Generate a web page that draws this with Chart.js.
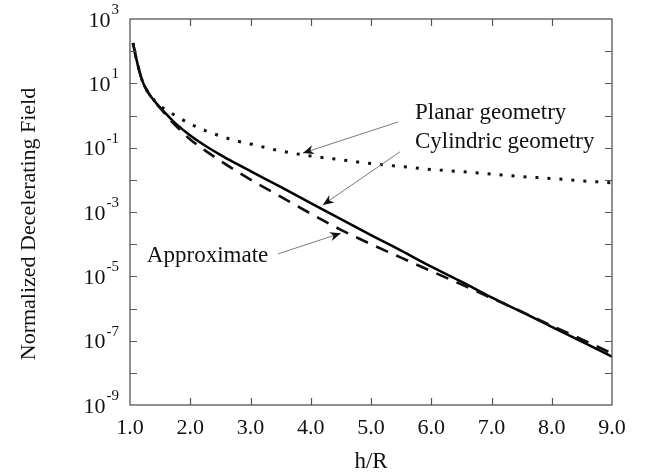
<!DOCTYPE html>
<html>
<head>
<meta charset="utf-8">
<script src="https://cdn.jsdelivr.net/npm/chart.js@4.4.1/dist/chart.umd.min.js"></script>
<style>
  html, body { margin: 0; padding: 0; background: #fff; }
  #wrap { width: 646px; height: 476px; }
</style>
</head>
<body>
<div id="wrap"><canvas id="chart"></canvas></div>
<script>
// h/R sample positions
const hR = [1.05, 1.1, 1.2, 1.3, 1.4, 1.5, 1.75, 2.0, 2.25, 2.5, 2.75, 3.0, 3.5, 4.0, 4.5, 5.0, 5.5, 6.0, 6.5, 7.0, 7.5, 8.0, 8.5, 9.0];

// normalized decelerating field
const cylindric = [178, 63, 12.6, 5.2, 2.9, 1.8, 0.58, 0.24, 0.115, 0.060, 0.033, 0.0186, 6.0e-3, 1.9e-3,
  6.0e-4, 1.9e-4, 6.3e-5, 2.0e-5, 6.8e-6, 2.2e-6, 7.9e-7, 2.7e-7, 9.3e-8, 3.2e-8];
const approximate = [178, 63, 12.6, 5.2, 2.85, 1.7, 0.50, 0.18, 0.081, 0.039, 0.0195, 0.0102, 3.0e-3, 8.9e-4,
  2.8e-4, 1.0e-4, 3.8e-5, 1.45e-5, 5.6e-6, 2.1e-6, 7.9e-7, 2.9e-7, 1.1e-7, 4.0e-8];
const planar = [178, 63, 12.6, 5.2, 3.0, 2.0, 1.0, 0.55, 0.34, 0.23, 0.166, 0.13, 0.079, 0.055,
  0.042, 0.032, 0.026, 0.021, 0.018, 0.015, 0.0126, 0.011, 0.0093, 0.0081];

const xTicks = [1, 2, 3, 4, 5, 6, 7, 8, 9];
const yDecades = [3, 2, 1, 0, -1, -2, -3, -4, -5, -6, -7, -8, -9];
const yLabelExps = [3, 1, -1, -3, -5, -7, -9];

// annotations (data coordinates)
const noteTexts = ["Planar geometry", "Cylindric geometry", "Approximate"];
const noteX = [5.73, 5.73, 1.28];
const noteY = [0.776, 0.098, 2.8e-5];
const arrowFrom = [[5.45, 0.63], [5.48, 0.074], [3.46, 5.0e-5]];
const arrowTo = [[3.87, 0.068], [4.2, 1.66e-3], [4.5, 2.2e-4]];

const SERIF = '"Liberation Serif", "DejaVu Serif", serif';

function pts(vals) {
  return hR.map((h, i) => ({ x: h, y: vals[i] }));
}

function arrow(ctx, x1, y1, x2, y2) {
  ctx.strokeStyle = '#7a7a7a';
  ctx.lineWidth = 1;
  ctx.beginPath();
  ctx.moveTo(x1, y1);
  ctx.lineTo(x2, y2);
  ctx.stroke();
  const ang = Math.atan2(y2 - y1, x2 - x1);
  const len = 11, half = 4.5;
  ctx.save();
  ctx.translate(x2, y2);
  ctx.rotate(ang);
  ctx.fillStyle = '#111';
  ctx.beginPath();
  ctx.moveTo(0, 0);
  ctx.lineTo(-len, -half);
  ctx.lineTo(-len * 0.7, 0);
  ctx.lineTo(-len, half);
  ctx.closePath();
  ctx.fill();
  ctx.restore();
}

const decor = {
  id: 'decor',
  afterDraw(chart) {
    const { ctx, chartArea: a, scales: { x, y } } = chart;
    ctx.save();

    // frame
    ctx.strokeStyle = '#555';
    ctx.lineWidth = 1.3;
    ctx.strokeRect(a.left, a.top, a.right - a.left, a.bottom - a.top);

    // inward ticks
    ctx.lineWidth = 1.2;
    ctx.beginPath();
    xTicks.slice(1, -1).forEach(v => {
      const px = Math.round(x.getPixelForValue(v)) + 0.5;
      ctx.moveTo(px, a.bottom); ctx.lineTo(px, a.bottom - 7);
      ctx.moveTo(px, a.top); ctx.lineTo(px, a.top + 7);
    });
    yDecades.slice(1, -1).forEach(e => {
      const py = Math.round(y.getPixelForValue(Math.pow(10, e))) + 0.5;
      ctx.moveTo(a.left, py); ctx.lineTo(a.left + 7, py);
      ctx.moveTo(a.right, py); ctx.lineTo(a.right - 7, py);
    });
    ctx.stroke();

    // y tick labels with superscripts
    ctx.fillStyle = '#111';
    ctx.textBaseline = 'alphabetic';
    ctx.textAlign = 'left';
    const big = '22px ' + SERIF, small = '15px ' + SERIF;
    yLabelExps.forEach(e => {
      const py = y.getPixelForValue(Math.pow(10, e));
      const sup = e < 0 ? '-' + (-e) : String(e);
      ctx.font = big;
      const wb = ctx.measureText('10').width;
      ctx.font = small;
      const ws = ctx.measureText(sup).width;
      const right = a.left - 11;
      ctx.font = big;
      ctx.fillText('10', right - ws - wb - 1, py + 7.5);
      ctx.font = small;
      ctx.fillText(sup, right - ws, py - 5);
    });

    // y title
    ctx.save();
    ctx.font = '22px ' + SERIF;
    ctx.textAlign = 'center';
    ctx.textBaseline = 'alphabetic';
    ctx.translate(35, (a.top + a.bottom) / 2 + 12);
    ctx.rotate(-Math.PI / 2);
    ctx.fillText('Normalized Decelerating Field', 0, 0);
    ctx.restore();

    // annotations
    ctx.font = '23px ' + SERIF;
    ctx.textAlign = 'left';
    ctx.textBaseline = 'alphabetic';
    noteTexts.forEach((t, i) => {
      ctx.fillText(t, x.getPixelForValue(noteX[i]), y.getPixelForValue(noteY[i]));
    });
    arrowFrom.forEach((f, i) => {
      const t = arrowTo[i];
      arrow(ctx, x.getPixelForValue(f[0]), y.getPixelForValue(f[1]),
        x.getPixelForValue(t[0]), y.getPixelForValue(t[1]));
    });

    ctx.restore();
  }
};

new Chart(document.getElementById('chart'), {
  type: 'line',
  data: {
    datasets: [
      {
        label: 'Planar geometry',
        data: pts(planar),
        borderColor: '#111',
        borderWidth: 3,
        borderDash: [3, 9],
        pointRadius: 0,
        cubicInterpolationMode: 'monotone'
      },
      {
        label: 'Approximate',
        data: pts(approximate),
        borderColor: '#111',
        borderWidth: 2.6,
        borderDash: [13, 9],
        pointRadius: 0,
        cubicInterpolationMode: 'monotone'
      },
      {
        label: 'Cylindric geometry',
        data: pts(cylindric),
        borderColor: '#000',
        borderWidth: 2.5,
        pointRadius: 0,
        cubicInterpolationMode: 'monotone'
      }
    ]
  },
  options: {
    responsive: true,
    maintainAspectRatio: false,
    animation: false,
    devicePixelRatio: 1,
    layout: { padding: { left: 0, top: 19, right: 34, bottom: 0 } },
    plugins: { legend: { display: false }, tooltip: { enabled: false } },
    scales: {
      x: {
        type: 'linear',
        min: 1,
        max: 9,
        afterBuildTicks: s => { s.ticks = xTicks.map(v => ({ value: v })); },
        afterFit: s => { s.height = 71; },
        grid: { display: false, drawTicks: false },
        border: { display: false },
        ticks: {
          callback: v => v.toFixed(1),
          font: { family: SERIF, size: 22 },
          color: '#111',
          padding: 10,
          maxRotation: 0
        },
        title: {
          display: true,
          text: 'h/R',
          font: { family: SERIF, size: 23 },
          color: '#111',
          padding: { top: 0, bottom: 0 }
        }
      },
      y: {
        type: 'logarithmic',
        min: 1e-9,
        max: 1e3,
        afterFit: s => { s.width = 130; },
        grid: { display: false, drawTicks: false },
        border: { display: false },
        ticks: { display: false }
      }
    }
  },
  plugins: [decor]
});
</script>
</body>
</html>
